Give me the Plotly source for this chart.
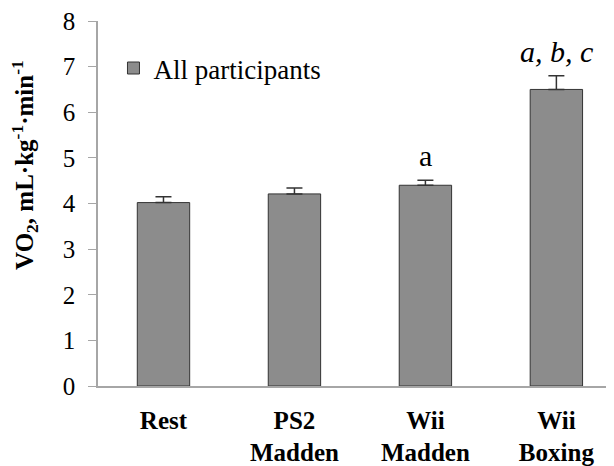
import plotly.graph_objects as go

categories = ["Rest", "PS2<br>Madden", "Wii<br>Madden", "Wii<br>Boxing"]
vo2_mean = [4.02, 4.21, 4.40, 6.50]
vo2_err = [0.13, 0.13, 0.11, 0.30]
sig_labels = ["", "", "a", "<i>a, b, c</i>"]
y_ticks = [0, 1, 2, 3, 4, 5, 6, 7, 8]

FONT = "Liberation Serif"

fig = go.Figure()
fig.add_trace(go.Bar(
    x=categories, y=vo2_mean, name="All participants",
    marker=dict(color="#8c8c8c", line=dict(color="#333333", width=1)),
    width=0.4,
    error_y=dict(type="data", symmetric=False, array=vo2_err,
                 arrayminus=[0] * len(vo2_err), visible=True,
                 color="#333333", thickness=1.5, width=8),
    showlegend=True,
))

for c, m, e, s in zip(categories, vo2_mean, vo2_err, sig_labels):
    if s:
        fig.add_annotation(x=c, y=m + e, text=s, showarrow=False,
                           yanchor="bottom", yshift=6,
                           font=dict(family=FONT, size=30, color="black"))

fig.add_annotation(
    xref="paper", yref="paper", x=-0.142, y=0.605,
    text="<b>VO<sub>2</sub>, mL·kg<sup>-1</sup>·min<sup>-1</sup></b>",
    textangle=-90, showarrow=False, xanchor="center", yanchor="middle",
    font=dict(family=FONT, size=25, color="black"),
)

# the page body has an 8px default margin, so the figure is sized to fit
fig.update_layout(
    width=606, height=458,
    margin=dict(l=90, r=0, t=12, b=79),
    plot_bgcolor="white", paper_bgcolor="white",
    font=dict(family=FONT, color="black"),
    legend=dict(x=0.03, y=0.87, xanchor="left", yanchor="middle",
                font=dict(family=FONT, size=27, color="black"),
                bgcolor="rgba(0,0,0,0)", itemwidth=30),
    xaxis=dict(range=[-0.5, 3.44], showline=True, linecolor="#a6a6a6",
               linewidth=1.5, ticks="", showgrid=False, ticklabelstandoff=11,
               tickfont=dict(family=FONT, size=25, color="black", weight="bold")),
    yaxis=dict(range=[0, 8], tickvals=y_ticks, showline=True,
               linecolor="#a6a6a6", linewidth=1.5, ticks="outside",
               ticklen=8, tickcolor="#a6a6a6", showgrid=False, zeroline=False,
               ticklabelstandoff=8, ticklabeloverflow="allow",
               tickfont=dict(family=FONT, size=25, color="black")),
)

fig.write_html("out.html")
